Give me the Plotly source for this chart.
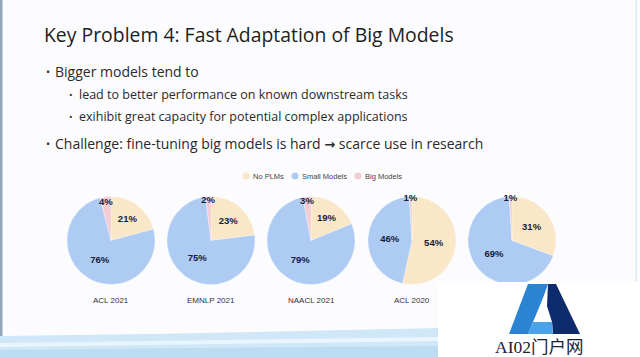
import plotly.graph_objects as go

# ---------------- data ----------------
categories = ["No PLMs", "Small Models", "Big Models"]
venues = ["ACL 2021", "EMNLP 2021", "NAACL 2021", "ACL 2020", ""]
no_plms = [21, 23, 19, 54, 31]
small_models = [76, 75, 79, 46, 69]
big_models = [4, 2, 3, 1, 1]
colors = ["#F9E7C7", "#ADCBF3", "#F3CDD4"]

title_text = "Key Problem 4: Fast Adaptation of Big Models"
bullets = [
    (0, "Bigger models tend to"),
    (1, "lead to better performance on known downstream tasks"),
    (1, "exihibit great capacity for potential complex applications"),
    (0, "Challenge: fine-tuning big models is hard "
        "<span style=\"font-family:DejaVu Sans;font-size:13px\"><b>\u2192</b></span> scarce use in research"),
]
watermark_text = "AI02门户网"

# ---------------- layout constants (pixels) ----------------
W, H = 640, 357
pie_cx = [111, 211, 311, 412, 512]
pie_cy = 240.5
pie_r = 44
bullet_y = [72, 95, 117, 143]


def px(x):
    return x / W


def py(y):
    return 1 - y / H


def path(points):
    return "M " + " L ".join(f"{px(x):.5f} {py(y):.5f}" for x, y in points) + " Z"


fig = go.Figure()

for i, venue in enumerate(venues):
    cx = pie_cx[i]
    fig.add_trace(go.Pie(
        values=[no_plms[i], small_models[i], big_models[i]],
        labels=categories,
        marker=dict(colors=colors, line=dict(color="rgba(255,255,255,0.6)", width=0.5)),
        sort=False,
        direction="clockwise",
        rotation=0,
        texttemplate="%{value}%",
        textposition="inside",
        insidetextorientation="horizontal",
        textfont=dict(family="Liberation Sans", size=9.5, color="#16213a", weight=700),
        domain=dict(x=[px(cx - pie_r), px(cx + pie_r)],
                    y=[py(pie_cy + pie_r), py(pie_cy - pie_r)]),
        showlegend=False,
        hoverinfo="skip",
    ))

annotations = []
shapes = []


def ann(x, y, text, size, color, family, xanchor="left"):
    annotations.append(dict(x=px(x), y=py(y), xref="paper", yref="paper", text=text, showarrow=False,
                            xanchor=xanchor, yanchor="middle", borderpad=0,
                            font=dict(family=family, size=size, color=color)))


def rect(x0, x1, y0, y1, color, layer="below"):
    shapes.append(dict(type="rect", xref="paper", yref="paper", x0=px(x0), x1=px(x1),
                       y0=py(y1), y1=py(y0), fillcolor=color, line=dict(width=0), layer=layer))


def poly(points, color, layer="below"):
    shapes.append(dict(type="path", xref="paper", yref="paper", path=path(points),
                       fillcolor=color, line=dict(width=0), layer=layer))


# slide decorations (bottom swoosh, edges)
poly([(0, 336), (150, 334), (300, 331), (440, 328), (640, 326), (640, 357), (0, 357)], "#cfe7f6")
poly([(0, 343), (150, 341), (300, 339), (440, 337), (640, 335), (640, 339), (440, 341),
      (300, 343), (150, 345), (0, 347)], "#e8f5fc")
poly([(0, 350), (200, 348), (440, 346), (640, 344), (640, 357), (0, 357)], "#bcdcf2")
rect(0, 2.5, 0, 336, "#93a6ba")
rect(635.5, 637, 0, 282, "#d2eef4")

# title
ann(42.5, 34, title_text, 19.4, "#1e1e1e", "Open Sans")
# bullets
for (lvl, txt), y in zip(bullets, bullet_y):
    bx = 45 if lvl == 0 else 68
    tx = 54 if lvl == 0 else 78
    fs = 14 if lvl == 0 else 12.5
    ann(bx, y, "\u2022", fs - 3, "#2a2a2a", "Open Sans")
    ann(tx, y, txt, fs, "#2a2a2a", "Open Sans")

# venue labels
for i, venue in enumerate(venues):
    if venue:
        ann(pie_cx[i], 300, venue, 8, "#333333", "Liberation Sans", xanchor="center")

# legend (manual, circle markers)
leg_mx = [246, 295, 358]
for c, col, mx in zip(categories, colors, leg_mx):
    shapes.append(dict(type="circle", xref="paper", yref="paper",
                       x0=px(mx - 3.5), x1=px(mx + 3.5), y0=py(176 + 3.5), y1=py(176 - 3.5),
                       fillcolor=col, line=dict(width=0)))
    ann(mx + 5.5, 176, c, 7.5, "#444444", "Liberation Sans")

# watermark box + logo
rect(438, 640, 282, 357, "#ffffff", layer="above")
poly([(509, 334), (528, 284), (548, 284), (543, 298), (528, 334)], "#2b83d3", layer="above")
poly([(548, 284), (556, 284), (580, 334), (553, 334), (552, 322), (547, 306)], "#0e2b6e", layer="above")
poly([(528, 334), (533, 322), (552, 322), (553, 334)], "#4aa3e8", layer="above")
ann(539, 347, watermark_text, 17.5, "#1b2238", "Liberation Serif, Noto Sans CJK SC", xanchor="center")

fig.update_layout(
    width=W, height=H,
    margin=dict(l=0, r=0, t=0, b=0),
    paper_bgcolor="#fcfcfe",
    plot_bgcolor="#fcfcfe",
    xaxis=dict(visible=False),
    yaxis=dict(visible=False),
    annotations=annotations,
    shapes=shapes,
    uniformtext=dict(minsize=9.5, mode="show"),
    showlegend=False,
)

fig.write_html("out.html", config={"displayModeBar": False},
               post_script="document.body.style.margin='0';")
